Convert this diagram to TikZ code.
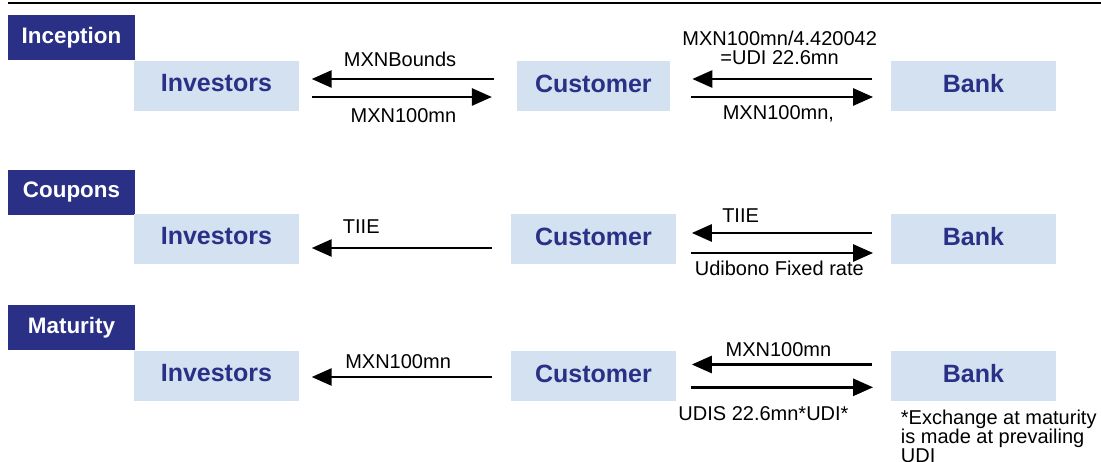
\documentclass[tikz,border=0pt]{standalone}
\usepackage{fontspec}
\setmainfont{Liberation Sans}
\usetikzlibrary{arrows.meta,calc}
\definecolor{navy}{RGB}{43,48,135}
\definecolor{paleblue}{RGB}{211,225,241}

\begin{document}
\begin{tikzpicture}[x=1pt,y=-1pt,
  party/.style={fill=paleblue, inner sep=0pt, minimum height=50pt, text=navy,
    font=\fontsize{25}{30}\selectfont\bfseries, text depth=5.4pt},
  phase/.style={fill=navy, text=white, inner sep=0pt, minimum width=127pt,
    minimum height=45pt, font=\fontsize{22.4}{27}\selectfont\bfseries},
  flow/.style={line width=2.7pt, -{Triangle[length=20pt,width=17pt]}},
  lbl/.style={inner sep=0pt, anchor=base, font=\fontsize{20}{19}\selectfont},
]
\useasboundingbox (0,0) rectangle (1101,462);

% heading rule
\coordinate (ruleL) at (7.7,2.8);
\coordinate (ruleR) at (1101,2.8);
\draw[line width=2.4pt] (ruleL) -- (ruleR);

% ---------- Inception ----------
\node[phase] (ph1) at (71.5,37.5) {Inception};
\node[party, minimum width=164.8pt] (inv1) at (216.4,86) {Investors};
\node[party, minimum width=153.3pt] (cus1) at (593.35,86) {Customer};
\node[party, minimum width=165.2pt] (bnk1) at (973.4,86) {Bank};

\draw[flow] ($(cus1.west)+(-22.8,-7)$) -- ($(inv1.east)+(12.7,-7)$);
\draw[flow] ($(inv1.east)+(13.2,11)$) -- ($(cus1.west)+(-24.6,11)$);
\draw[flow] ($(bnk1.west)+(-18.2,-7)$) -- ($(cus1.east)+(22.1,-7)$);
\draw[flow] ($(cus1.east)+(21,11)$) -- ($(bnk1.west)+(-17.5,11)$);

\node[lbl] (l1) at (400,66.7) {MXNBounds};
\node[lbl] (l2) at (403.4,122.3) {MXN100mn};
\node[lbl] (l3) at (779.7,45.7) {MXN100mn/4.420042};
\node[lbl] (l4) at (779.6,65) {=UDI 22.6mn};
\node[lbl] (l5) at (778.4,120) {MXN100mn,};

% ---------- Coupons ----------
\node[phase] (ph2) at (71.5,192.5) {Coupons};
\node[party, minimum width=164.8pt] (inv2) at (216.4,239) {Investors};
\node[party, minimum width=164.8pt] (cus2) at (593.4,239) {Customer};
\node[party, minimum width=165.2pt] (bnk2) at (973.4,239) {Bank};

\draw[flow] ($(cus2.west)+(-19.2,9)$) -- ($(inv2.east)+(12.7,9)$);
\draw[flow] ($(bnk2.west)+(-18.2,-6)$) -- ($(cus2.east)+(15.8,-6)$);
\draw[flow] ($(cus2.east)+(14.7,14)$) -- ($(bnk2.west)+(-17.5,14)$);

\node[lbl] (l6) at (361.3,234) {TIIE};
\node[lbl] (l7) at (740.6,222.3) {TIIE};
\node[lbl] (l8) at (779.3,275.7) {Udibono Fixed rate};

% ---------- Maturity ----------
\node[phase] (ph3) at (71.5,327.5) {Maturity};
\node[party, minimum width=164.8pt] (inv3) at (216.4,376) {Investors};
\node[party, minimum width=164.8pt] (cus3) at (593.4,376) {Customer};
\node[party, minimum width=165.2pt] (bnk3) at (973.4,376) {Bank};

\draw[flow] ($(cus3.west)+(-19.2,1)$) -- ($(inv3.east)+(12.7,1)$);
\draw[flow] ($(bnk3.west)+(-18.2,-11.5)$) -- ($(cus3.east)+(15.8,-11.5)$);
\draw[flow] ($(cus3.east)+(14.7,11.3)$) -- ($(bnk3.west)+(-17.5,11.3)$);

\node[lbl] (l9) at (398.1,368.3) {MXN100mn};
\node[lbl] (l10) at (778.4,356.3) {MXN100mn};
\node[lbl] (l11) at (763.5,420.7) {UDIS 22.6mn*UDI*};

\node[inner sep=0pt, anchor=north west, align=left,
  font=\fontsize{20}{19}\selectfont] (note) at (900.7,409.6)
  {*Exchange at maturity\\is made at prevailing\\UDI};
\end{tikzpicture}
\end{document}
